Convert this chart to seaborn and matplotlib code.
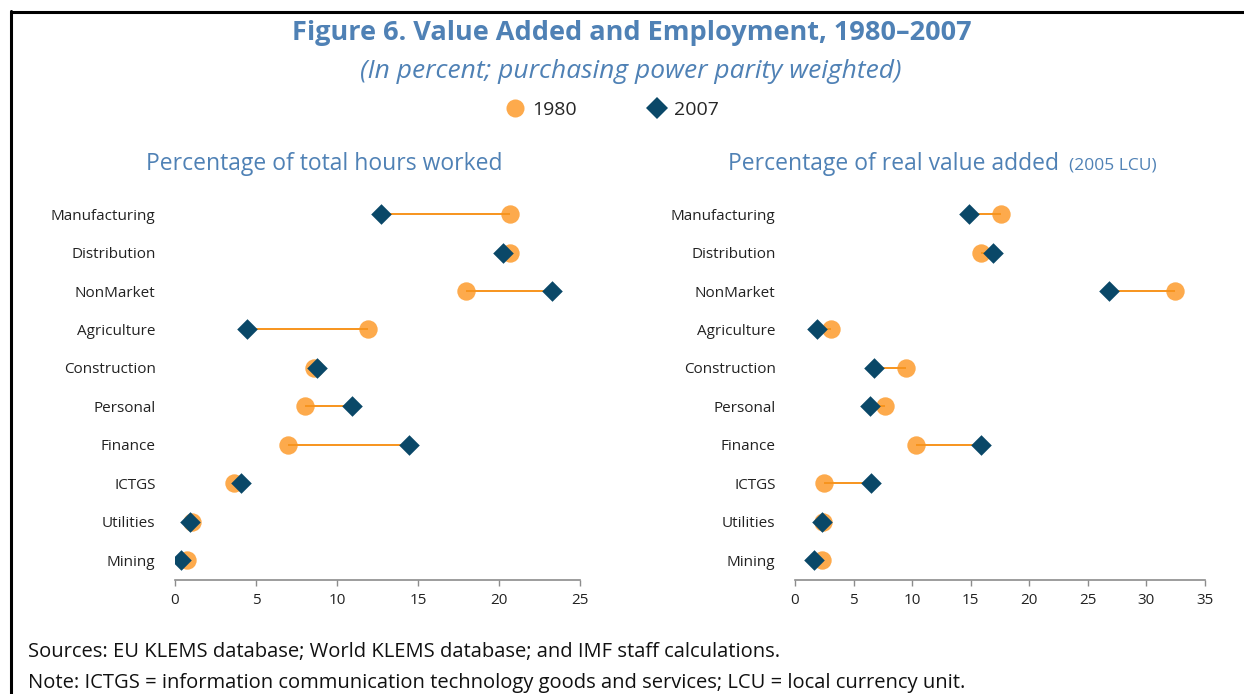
import matplotlib
matplotlib.use("Agg")
import matplotlib.pyplot as plt
import seaborn as sns
import pandas as pd
from matplotlib.lines import Line2D

sectors = ["Manufacturing", "Distribution", "NonMarket", "Agriculture", "Construction",
           "Personal", "Finance", "ICTGS", "Utilities", "Mining"]

hours_1980 = [20.7, 20.65, 17.95, 11.9, 8.55, 8.05, 6.95, 3.65, 1.05, 0.75]
hours_2007 = [12.7, 20.25, 23.25, 4.45, 8.75, 10.95, 14.45, 4.05, 0.9, 0.4]

va_1980 = [17.6, 15.85, 32.4, 3.05, 9.45, 7.7, 10.3, 2.5, 2.35, 2.3]
va_2007 = [14.85, 16.9, 26.8, 1.85, 6.75, 6.4, 15.85, 6.5, 2.3, 1.65]

years = ["1980", "2007"]
c1980 = "#FDAA4C"
c2007 = "#0A4868"
cline = "#F7941D"
blue = "#4F81B5"

sns.set_theme(style="white")
plt.rcParams["font.family"] = ["Open Sans", "DejaVu Sans"]

fig = plt.figure(figsize=(12.44, 6.94), dpi=100)

def make_df(v80, v07):
    return pd.DataFrame({
        "sector": sectors * 2,
        "value": list(v80) + list(v07),
        "year": [years[0]] * len(sectors) + [years[1]] * len(sectors),
    })

def panel(ax, v80, v07, xmax):
    df = make_df(v80, v07)
    d80 = df[df["year"] == "1980"]
    d07 = df[df["year"] == "2007"]
    sns.scatterplot(data=d80, x="value", y="sector", color=c1980, marker="o",
                    s=175, linewidth=0, ax=ax, zorder=2, legend=False)
    ypos = range(len(sectors))
    ax.hlines(ypos, v80, v07, color=cline, lw=1.4, zorder=2.5)
    sns.scatterplot(data=d07, x="value", y="sector", color=c2007, marker="D",
                    s=110, linewidth=0, ax=ax, zorder=3, legend=False)
    ax.set_xlim(0, xmax)
    ax.set_ylim(len(sectors) - 0.48, -0.5)
    ax.set_xticks(range(0, xmax + 1, 5))
    ax.set_xlabel("")
    ax.set_ylabel("")
    for s in ["top", "right", "left"]:
        ax.spines[s].set_visible(False)
    ax.spines["bottom"].set_color("#8C8C8C")
    ax.spines["bottom"].set_linewidth(1.2)
    ax.tick_params(axis="x", direction="out", length=4, width=1.0, color="#8C8C8C",
                   labelsize=11, labelcolor="#222222", pad=5, bottom=True)
    ax.tick_params(axis="y", length=0, labelsize=11, labelcolor="#222222", pad=14)
    ax.grid(False)

ax1 = fig.add_axes([175 / 1244, 1 - 580 / 694, 405 / 1244, 385 / 694])
panel(ax1, hours_1980, hours_2007, 25)
ax2 = fig.add_axes([795 / 1244, 1 - 580 / 694, 410 / 1244, 385 / 694])
panel(ax2, va_1980, va_2007, 35)

fig.text(632 / 1244, 1 - 33 / 694, "Figure 6. Value Added and Employment, 1980–2007",
         ha="center", va="center", fontsize=19.5, fontweight="bold", color=blue)
fig.text(631 / 1244, 1 - 72 / 694, "(In percent; purchasing power parity weighted)",
         ha="center", va="center", fontsize=19, style="italic", color=blue)

# legend
handles = [
    Line2D([], [], marker="o", ls="", color=c1980, markersize=13, markeredgewidth=0, label="1980"),
    Line2D([], [], marker="D", ls="", color=c2007, markersize=11, markeredgewidth=0, label="2007"),
]
fig.legend(handles=handles, loc="center", bbox_to_anchor=(612 / 1244, 1 - 110 / 694), ncol=2,
           frameon=False, fontsize=14, handletextpad=0.4, columnspacing=3.6, handlelength=1.0)

fig.text(146 / 1244, 1 - 164 / 694, "Percentage of total hours worked",
         ha="left", va="center", fontsize=16.5, color=blue)
fig.text(728 / 1244, 1 - 164 / 694, "Percentage of real value added",
         ha="left", va="center", fontsize=16.5, color=blue)
fig.text(1069 / 1244, 1 - 166 / 694, "(2005 LCU)",
         ha="left", va="center", fontsize=12.5, color=blue)

fig.text(28 / 1244, 1 - 652 / 694,
         "Sources: EU KLEMS database; World KLEMS database; and IMF staff calculations.",
         ha="left", va="center", fontsize=14.5, color="#111111")
fig.text(28 / 1244, 1 - 683 / 694,
         "Note: ICTGS = information communication technology goods and services; LCU = local currency unit.",
         ha="left", va="center", fontsize=14.5, color="#111111")

# frame lines (top and left)
fig.add_artist(Line2D([10.5 / 1244, 1.0], [1 - 11.5 / 694, 1 - 11.5 / 694],
                      transform=fig.transFigure, color="black", lw=2.2))
fig.add_artist(Line2D([11 / 1244, 11 / 1244], [0.0, 1 - 11 / 694],
                      transform=fig.transFigure, color="black", lw=2.2))

fig.savefig("out.png", dpi=100, facecolor="white")
